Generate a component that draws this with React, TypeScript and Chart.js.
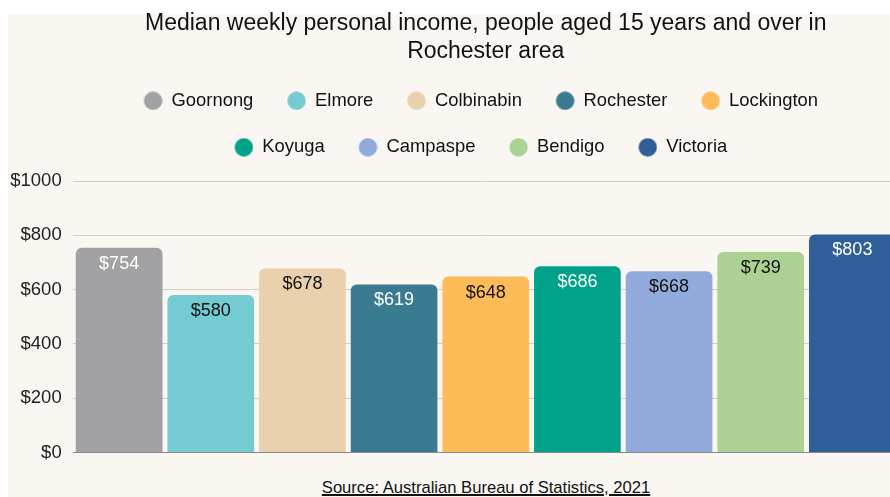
import React, { useEffect, useRef } from 'react';
import { Chart, registerables } from 'chart.js';

Chart.register(...registerables);

const FONT = "'Liberation Sans', Arial, Helvetica, sans-serif";

const chartTitle = ['Median weekly personal income, people aged 15 years and over in', 'Rochester area'];
const sourceText = 'Source: Australian Bureau of Statistics, 2021';
const categories = ['Goornong', 'Elmore', 'Colbinabin', 'Rochester', 'Lockington', 'Koyuga', 'Campaspe', 'Bendigo', 'Victoria'];
const incomes = [754, 580, 678, 619, 648, 686, 668, 739, 803];
const barColors = ['#a2a2a4', '#74cbd2', '#e8d1ac', '#3b7b91', '#ffbb58', '#00a389', '#91aadb', '#acd293', '#2f5f98'];
const valueLabelColors = ['#ffffff', '#111111', '#111111', '#ffffff', '#111111', '#ffffff', '#111111', '#111111', '#ffffff'];
const yTickValues = [0, 200, 400, 600, 800, 1000];

function makeDot(color: string): HTMLCanvasElement {
  const c = document.createElement('canvas');
  c.width = 25;
  c.height = 19;
  const g = c.getContext('2d')!;
  g.fillStyle = color;
  g.beginPath();
  g.arc(15.4, 9.5, 9.2, 0, Math.PI * 2);
  g.fill();
  return c;
}

const valueLabelPlugin = {
  id: 'valueLabels',
  afterDatasetsDraw(chart: any) {
    const { ctx } = chart;
    const meta = chart.getDatasetMeta(0);
    ctx.save();
    ctx.font = `18px ${FONT}`;
    ctx.textAlign = 'center';
    ctx.textBaseline = 'middle';
    meta.data.forEach((bar: any, i: number) => {
      ctx.fillStyle = valueLabelColors[i];
      ctx.fillText('$' + incomes[i], bar.x, bar.y + 16);
    });
    ctx.restore();
  },
};

// y tick labels drawn from the y scale (the scale box itself is kept narrow)
const yLabelPlugin = {
  id: 'yLabels',
  afterDraw(chart: any) {
    const { ctx } = chart;
    const scale = chart.scales.y;
    ctx.save();
    ctx.font = `18.5px ${FONT}`;
    ctx.textAlign = 'right';
    ctx.textBaseline = 'middle';
    ctx.fillStyle = '#222222';
    scale.ticks.forEach((t: any) => {
      ctx.fillText('$' + t.value, scale.right - 11.6, scale.getPixelForValue(t.value));
    });
    ctx.restore();
  },
};

export default function App() {
  const canvasRef = useRef<HTMLCanvasElement | null>(null);

  useEffect(() => {
    if (!canvasRef.current) return;
    const dots = barColors.map(makeDot);
    const chart = new Chart(canvasRef.current, {
      type: 'bar',
      data: {
        labels: categories,
        datasets: [
          {
            data: incomes,
            backgroundColor: barColors,
            borderWidth: 0,
            borderRadius: 6,
            barPercentage: 0.946,
            categoryPercentage: 1,
          },
        ],
      },
      options: {
        animation: false,
        responsive: true,
        maintainAspectRatio: false,
        layout: { padding: { left: 49.8, right: 0.8, top: 0, bottom: 0 } },
        plugins: {
          tooltip: { enabled: false },
          title: {
            display: true,
            text: chartTitle,
            fullSize: false,
            color: '#111111',
            font: { family: FONT, size: 23, weight: 'normal', lineHeight: 1.2 },
            padding: { top: 1.9, bottom: -1.6 },
          },
          legend: {
            display: true,
            position: 'top',
            labels: {
              usePointStyle: true,
              pointStyleWidth: 24.4,
              padding: 28.1,
              color: '#111111',
              font: { family: FONT, size: 18.4 },
              generateLabels: () =>
                categories.map((name, i) => ({
                  text: name,
                  fillStyle: barColors[i],
                  strokeStyle: barColors[i],
                  lineWidth: 0,
                  pointStyle: dots[i],
                  hidden: false,
                  index: i,
                  datasetIndex: 0,
                  fontColor: '#111111',
                })),
            },
            onClick: () => {},
          },
          subtitle: {
            display: true,
            text: '',
            weight: 500,
            position: 'top',
            font: { family: FONT, size: 10, lineHeight: 1 },
            padding: { top: 4.5, bottom: 0 },
          },
        },
        scales: {
          x: {
            display: true,
            grid: { display: false, drawTicks: false },
            border: { display: true, color: '#8a8a8a', width: 1 },
            ticks: { display: false },
          },
          y: {
            min: 0,
            max: 1000,
            afterBuildTicks: (scale: any) => {
              scale.ticks = yTickValues.map((v) => ({ value: v }));
            },
            afterFit: (scale: any) => {
              scale.width = 15.5;
            },
            grid: { color: '#d2cec9', drawTicks: false, lineWidth: 1 },
            border: { display: false },
            ticks: {
              padding: 11.6,
              color: 'rgba(0,0,0,0)',
              font: { family: FONT, size: 18 },
              callback: (v: any) => '$' + v,
            },
          },
        },
      },
      plugins: [valueLabelPlugin, yLabelPlugin],
    } as any);
    return () => chart.destroy();
  }, []);

  return (
    <div style={{ position: 'fixed', left: 8, top: 8, width: 882, height: 489, overflow: 'hidden' }}>
      <div style={{ position: 'absolute', left: 0, top: 6, width: 1000, height: 483, background: '#faf7f2' }} />
      <div style={{ position: 'absolute', left: 0, top: 0, width: 891, height: 467 }}>
        <canvas ref={canvasRef} />
      </div>
      <div
        style={{
          position: 'absolute',
          left: 0,
          top: 470,
          width: 956,
          textAlign: 'center',
          fontFamily: FONT,
          fontSize: '16.6px',
          lineHeight: 'normal',
          color: '#111111',
        }}
      >
        <span style={{ textDecoration: 'underline', textDecorationThickness: '2px' }}>{sourceText}</span>
      </div>
    </div>
  );
}
